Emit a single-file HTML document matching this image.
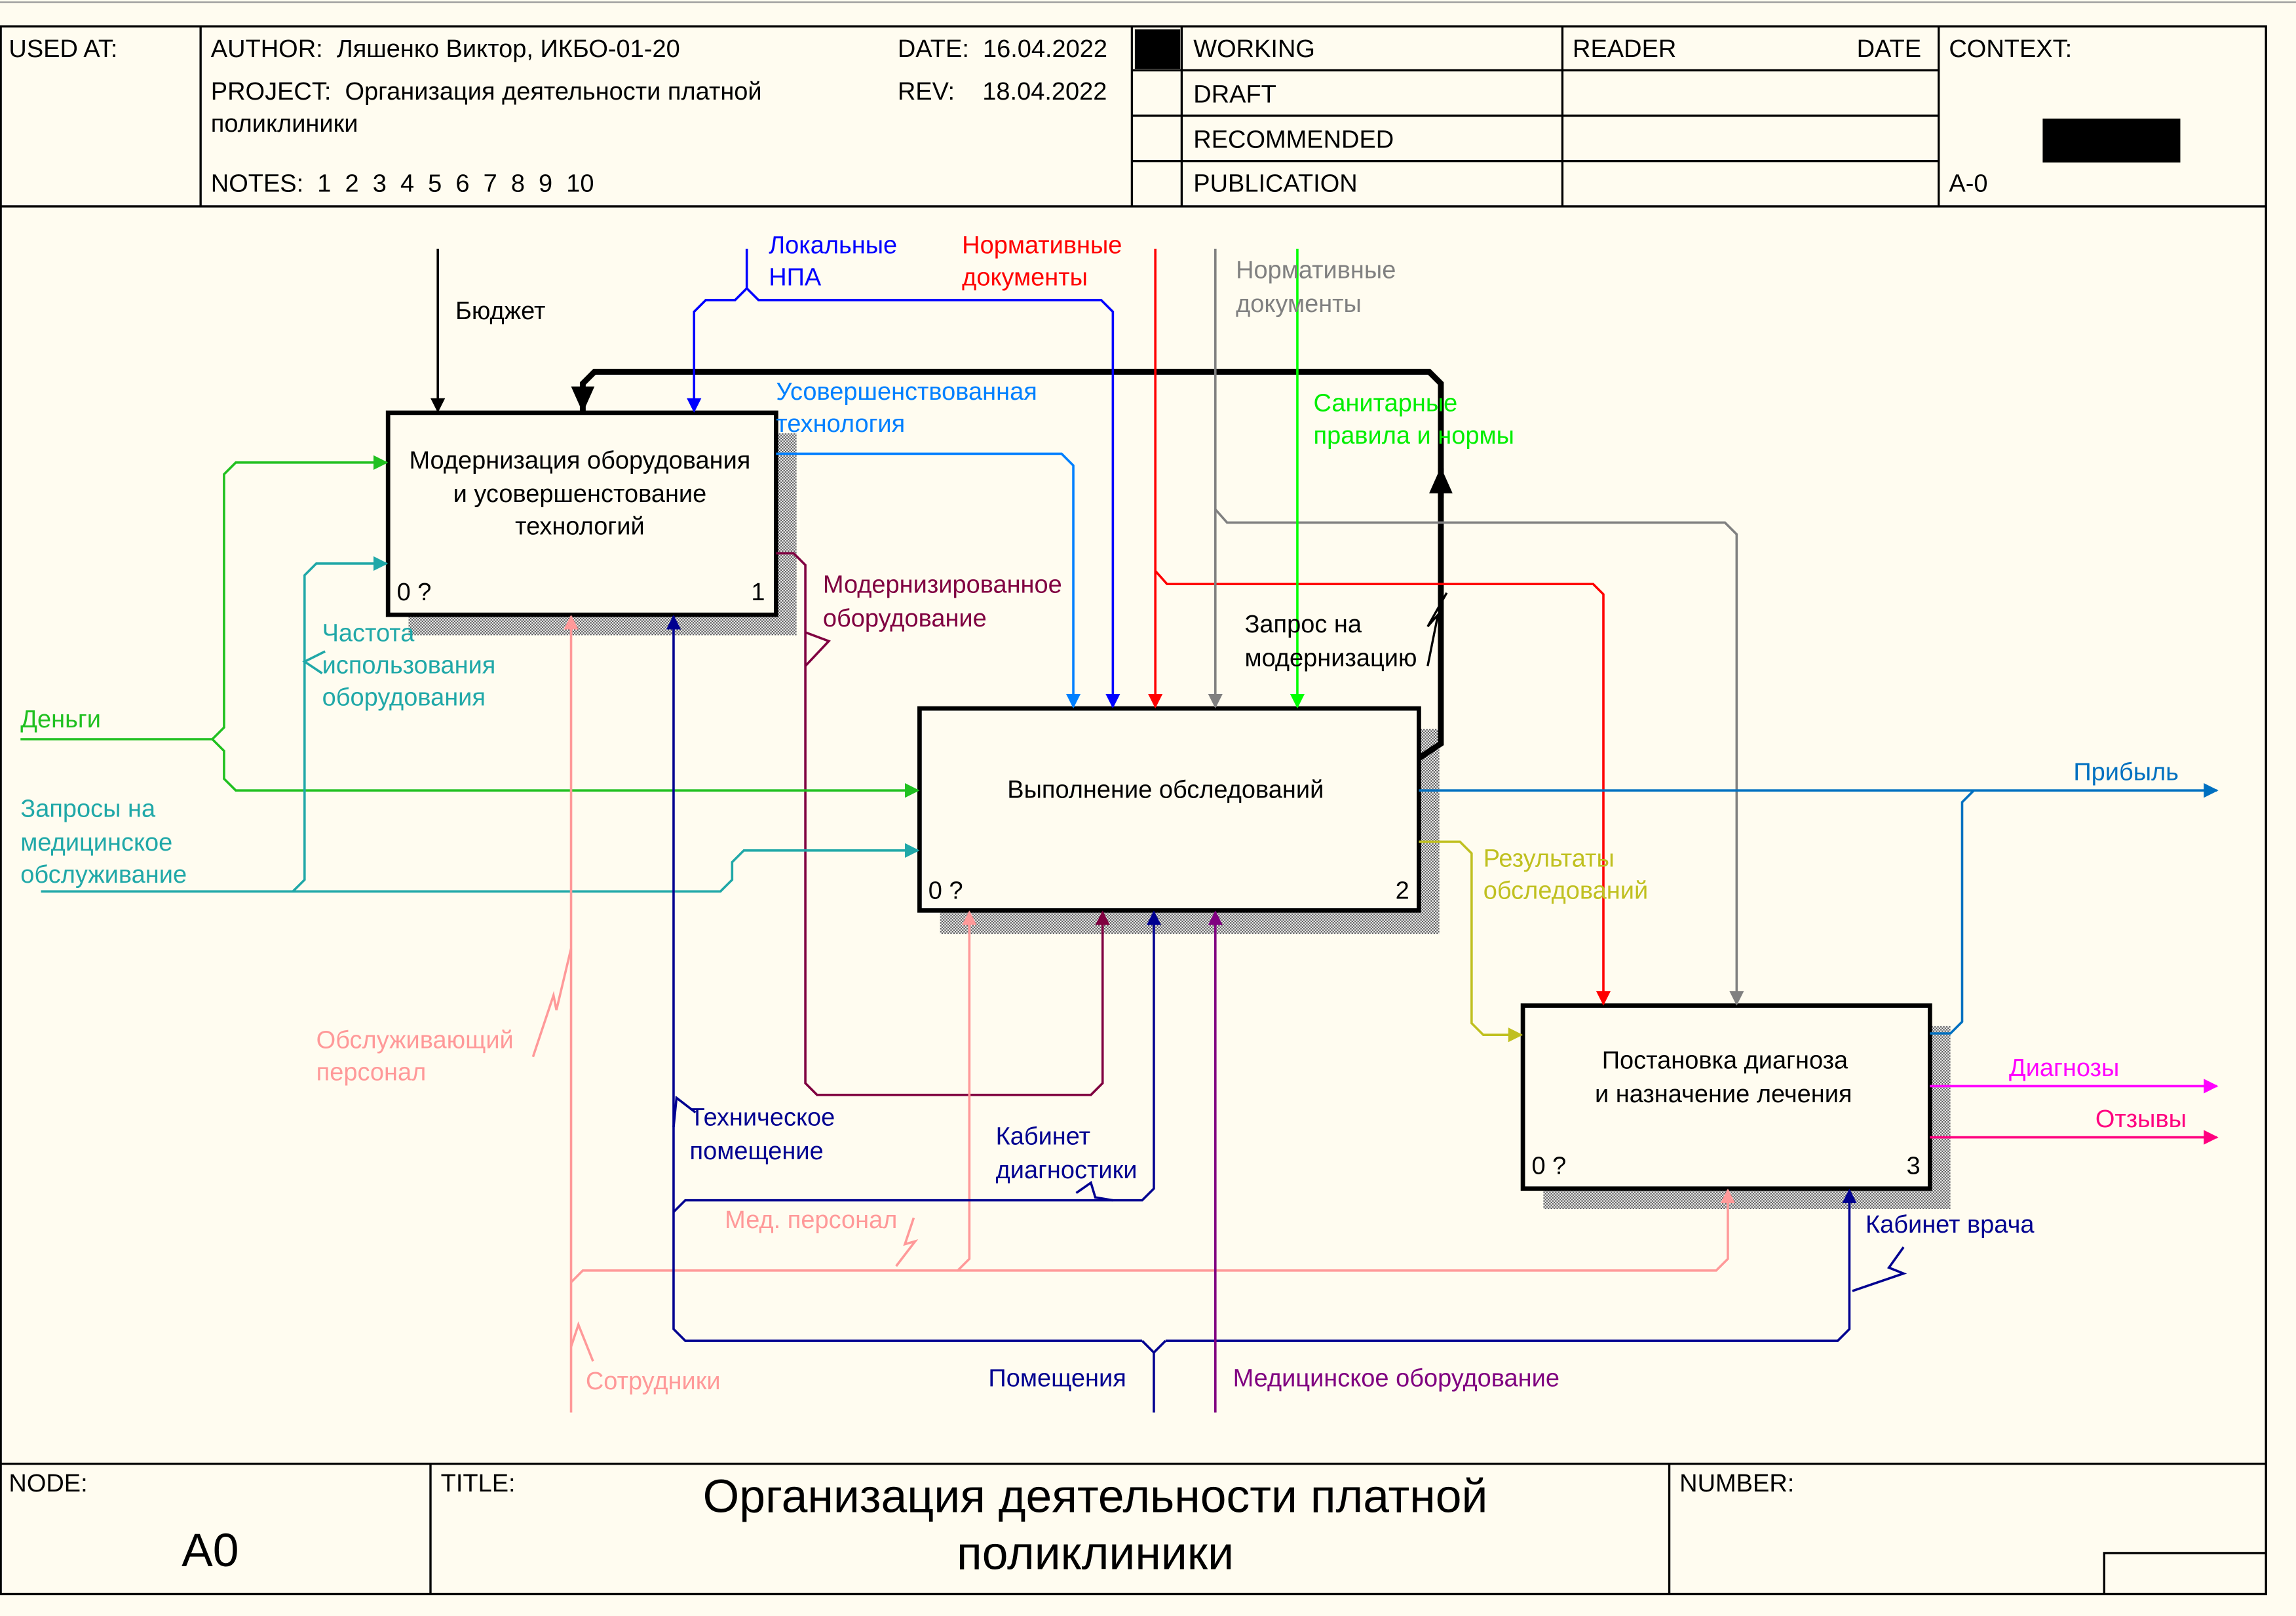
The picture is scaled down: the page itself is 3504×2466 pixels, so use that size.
<!DOCTYPE html>
<html><head><meta charset="utf-8"><style>
html,body{margin:0;padding:0;background:#fffcf0;}
svg{display:block;}
text{font-family:"Liberation Sans","DejaVu Sans",sans-serif;font-size:17px;white-space:pre;}
</style></head><body>
<svg width="3504" height="2466" viewBox="0 0 1568 1104" preserveAspectRatio="none" xmlns="http://www.w3.org/2000/svg" xml:space="preserve">
<defs>
<pattern id="h" width="2" height="2" patternUnits="userSpaceOnUse"><rect width="2" height="2" fill="#fff"/><rect width="1" height="1" fill="#555"/><rect x="1" y="1" width="1" height="1" fill="#555"/></pattern>
<marker id="a" markerWidth="10" markerHeight="10" refX="9" refY="5" orient="auto" markerUnits="userSpaceOnUse"><path d="M0,0 L10,5 L0,10 Z" fill="context-stroke"/></marker>
<marker id="ab" markerWidth="18" markerHeight="20" refX="17" refY="10" orient="auto" markerUnits="userSpaceOnUse"><path d="M0,2 L18,10 L0,18 Z" fill="#000"/></marker>
</defs>
<rect width="1568" height="1104" fill="#fffcf0"/>
<g stroke="#000" stroke-width="1.5" fill="none">
<rect x="0.5" y="18" width="1547" height="1071"/>
<line x1="0" y1="141" x2="1547" y2="141"/>
<line x1="137" y1="18" x2="137" y2="141"/>
<line x1="773" y1="18" x2="773" y2="141"/>
<line x1="807" y1="18" x2="807" y2="141"/>
<line x1="1067" y1="18" x2="1067" y2="141"/>
<line x1="1324" y1="18" x2="1324" y2="141"/>
<line x1="773" y1="48" x2="1324" y2="48"/>
<line x1="773" y1="79" x2="1324" y2="79"/>
<line x1="773" y1="110" x2="1324" y2="110"/>
<line x1="0" y1="1000" x2="1547" y2="1000"/>
<line x1="294" y1="1000" x2="294" y2="1089"/>
<line x1="1140" y1="1000" x2="1140" y2="1089"/>
<polyline points="1437,1089 1437,1061 1547,1061"/>
</g>
<line x1="0" y1="1.5" x2="1568" y2="1.5" stroke="#999" stroke-width="1"/>
<rect x="775" y="20" width="31" height="27" fill="#000"/>
<rect x="1395" y="81" width="94" height="30" fill="#000"/>
<g fill="#000">
<text x="6" y="39">USED AT:</text>
<text x="144" y="39">AUTHOR:  Ляшенко Виктор, ИКБО-01-20</text>
<text x="613" y="39">DATE:  16.04.2022</text>
<text x="144" y="68">PROJECT:  Организация деятельности платной</text>
<text x="144" y="90">поликлиники</text>
<text x="613" y="68">REV:    18.04.2022</text>
<text x="144" y="131">NOTES:  1  2  3  4  5  6  7  8  9  10</text>
<text x="815" y="39">WORKING</text>
<text x="815" y="70">DRAFT</text>
<text x="815" y="101">RECOMMENDED</text>
<text x="815" y="131">PUBLICATION</text>
<text x="1074" y="39">READER</text>
<text x="1268" y="39">DATE</text>
<text x="1331" y="39">CONTEXT:</text>
<text x="1331" y="131">A-0</text>
<text x="6" y="1019">NODE:</text>
<text x="301" y="1019">TITLE:</text>
<text x="1147" y="1019">NUMBER:</text>
<text x="124" y="1070" style="font-size:32px">A0</text>
<text x="748" y="1033" text-anchor="middle" style="font-size:32px">Организация деятельности платной</text>
<text x="748" y="1072" text-anchor="middle" style="font-size:32px">поликлиники</text>
</g>
<rect x="279" y="296" width="265" height="138" fill="url(#h)"/>
<rect x="642" y="498" width="341" height="140" fill="url(#h)"/>
<rect x="1054" y="701" width="278" height="125" fill="url(#h)"/>
<g stroke="#000" stroke-width="3" fill="#fffcf0">
<rect x="265" y="282" width="265" height="138"/>
<rect x="628" y="484" width="341" height="138"/>
<rect x="1040" y="687" width="278" height="125"/>
</g>
<g fill="#000" text-anchor="middle">
<text x="396" y="320">Модернизация оборудования</text>
<text x="396" y="343">и усовершенстование</text>
<text x="396" y="365">технологий</text>
<text x="796" y="545">Выполнение обследований</text>
<text x="1178" y="730">Постановка диагноза</text>
<text x="1177" y="753">и назначение лечения</text>
</g>
<g fill="#000">
<text x="271" y="410">0 ?</text><text x="513" y="410">1</text>
<text x="634" y="614">0 ?</text><text x="953" y="614">2</text>
<text x="1046" y="802">0 ?</text><text x="1302" y="802">3</text>
</g>
<g fill="none" stroke-width="1.6">
<line x1="299" y1="170" x2="299" y2="281" stroke="#000" marker-end="url(#a)"/>
<polyline points="969,518 984,508 984,262 976,254 406,254 398,262 398,281" stroke="#000" stroke-width="4" marker-end="url(#ab)"/>
<line x1="984" y1="340" x2="984" y2="320" stroke="#000" stroke-width="4" marker-end="url(#ab)"/>
<polyline points="975,455 982,420 975,428 988,405" stroke="#000" stroke-width="1.5"/>
<polyline points="510,170 510,197 502,205 482,205 474,213 474,281" stroke="#0000ff" marker-end="url(#a)"/>
<polyline points="510,197 518,205 752,205 760,213 760,483" stroke="#0000ff" marker-end="url(#a)"/>
<line x1="789" y1="170" x2="789" y2="483" stroke="#ff0000" marker-end="url(#a)"/>
<polyline points="789,390 797,399 1088,399 1095,406 1095,686" stroke="#ff0000" marker-end="url(#a)"/>
<line x1="830" y1="170" x2="830" y2="483" stroke="#808080" marker-end="url(#a)"/>
<polyline points="830,348 838,357 1178,357 1186,365 1186,686" stroke="#808080" marker-end="url(#a)"/>
<line x1="886" y1="170" x2="886" y2="483" stroke="#00ff00" marker-end="url(#a)"/>
<polyline points="530,310 725,310 733,318 733,483" stroke="#0080ff" marker-end="url(#a)"/>
<polyline points="530,378 542,378 550,386 550,740 558,748 745,748 753,740 753,623" stroke="#800040" marker-end="url(#a)"/>
<polyline points="550,432 566,438 550,455" stroke="#800040"/>
<polyline points="14,505 145,505 153,497 153,324 161,316 264,316" stroke="#20c020" marker-end="url(#a)"/>
<polyline points="145,505 153,513 153,532 161,540 627,540" stroke="#20c020" marker-end="url(#a)"/>
<polyline points="28,609 492,609 500,601 500,589 508,581 627,581" stroke="#20a8a8" marker-end="url(#a)"/>
<polyline points="200,609 208,601 208,393 216,385 264,385" stroke="#20a8a8" marker-end="url(#a)"/>
<polyline points="222,445 208,452 220,460" stroke="#20a8a8"/>
<line x1="969" y1="540" x2="1514" y2="540" stroke="#0070c0" marker-end="url(#a)"/>
<polyline points="1318,706 1332,706 1340,698 1340,548 1348,540" stroke="#0070c0"/>
<polyline points="969,575 997,575 1005,583 1005,699 1013,707 1039,707" stroke="#c0c020" marker-end="url(#a)"/>
<line x1="1318" y1="742" x2="1514" y2="742" stroke="#ff00ff" marker-end="url(#a)"/>
<line x1="1318" y1="777" x2="1514" y2="777" stroke="#ff0080" marker-end="url(#a)"/>
<line x1="390" y1="965" x2="390" y2="421" stroke="#ff9999" marker-end="url(#a)"/>
<polyline points="390,876 398,868 654,868 662,860 662,623" stroke="#ff9999" marker-end="url(#a)"/>
<polyline points="654,868 1172,868 1180,860 1180,813" stroke="#ff9999" marker-end="url(#a)"/>
<polyline points="364,722 378,680 380,690 390,648" stroke="#ff9999"/>
<polyline points="390,920 395,905 405,930" stroke="#ff9999"/>
<polyline points="612,865 625,848 618,850 624,832" stroke="#ff9999"/>
<polyline points="788,965 788,924 780,916" stroke="#000090"/>
<polyline points="788,924 796,916" stroke="#000090"/>
<polyline points="780,916 468,916 460,908 460,421" stroke="#000090" marker-end="url(#a)"/>
<polyline points="796,916 1255,916 1263,908 1263,813" stroke="#000090" marker-end="url(#a)"/>
<polyline points="460,828 468,820 780,820 788,812 788,623" stroke="#000090" marker-end="url(#a)"/>
<polyline points="460,770 462,750 475,760" stroke="#000090"/>
<polyline points="735,815 745,808 748,818 760,820" stroke="#000090"/>
<polyline points="1265,882 1300,870 1290,866 1300,852" stroke="#000090"/>
<line x1="830" y1="965" x2="830" y2="623" stroke="#800080" marker-end="url(#a)"/>
</g>
<text x="311" y="218" fill="#000">Бюджет</text>
<text x="525" y="173" fill="#0000ff">Локальные</text>
<text x="525" y="195" fill="#0000ff">НПА</text>
<text x="657" y="173" fill="#ff0000">Нормативные</text>
<text x="657" y="195" fill="#ff0000">документы</text>
<text x="844" y="190" fill="#808080">Нормативные</text>
<text x="844" y="213" fill="#808080">документы</text>
<text x="530" y="273" fill="#0080ff">Усовершенствованная</text>
<text x="530" y="295" fill="#0080ff">технология</text>
<text x="897" y="281" fill="#00ee00">Санитарные</text>
<text x="897" y="303" fill="#00ee00">правила и нормы</text>
<text x="562" y="405" fill="#800040">Модернизированное</text>
<text x="562" y="428" fill="#800040">оборудование</text>
<text x="850" y="432" fill="#000">Запрос на</text>
<text x="850" y="455" fill="#000">модернизацию</text>
<text x="220" y="438" fill="#20a8a8">Частота</text>
<text x="220" y="460" fill="#20a8a8">использования</text>
<text x="220" y="482" fill="#20a8a8">оборудования</text>
<text x="14" y="497" fill="#20c020">Деньги</text>
<text x="14" y="558" fill="#20a8a8">Запросы на</text>
<text x="14" y="581" fill="#20a8a8">медицинское</text>
<text x="14" y="603" fill="#20a8a8">обслуживание</text>
<text x="1416" y="533" fill="#0070c0">Прибыль</text>
<text x="1013" y="592" fill="#c0c020">Результаты</text>
<text x="1013" y="614" fill="#c0c020">обследований</text>
<text x="1372" y="735" fill="#ff00ff">Диагнозы</text>
<text x="1431" y="770" fill="#ff0080">Отзывы</text>
<text x="216" y="716" fill="#ff9999">Обслуживающий</text>
<text x="216" y="738" fill="#ff9999">персонал</text>
<text x="471" y="769" fill="#000090">Техническое</text>
<text x="471" y="792" fill="#000090">помещение</text>
<text x="680" y="782" fill="#000090">Кабинет</text>
<text x="680" y="805" fill="#000090">диагностики</text>
<text x="495" y="839" fill="#ff9999">Мед. персонал</text>
<text x="1274" y="842" fill="#000090">Кабинет врача</text>
<text x="400" y="949" fill="#ff9999">Сотрудники</text>
<text x="675" y="947" fill="#000090">Помещения</text>
<text x="842" y="947" fill="#800080">Медицинское оборудование</text>
</svg>
</body></html>
